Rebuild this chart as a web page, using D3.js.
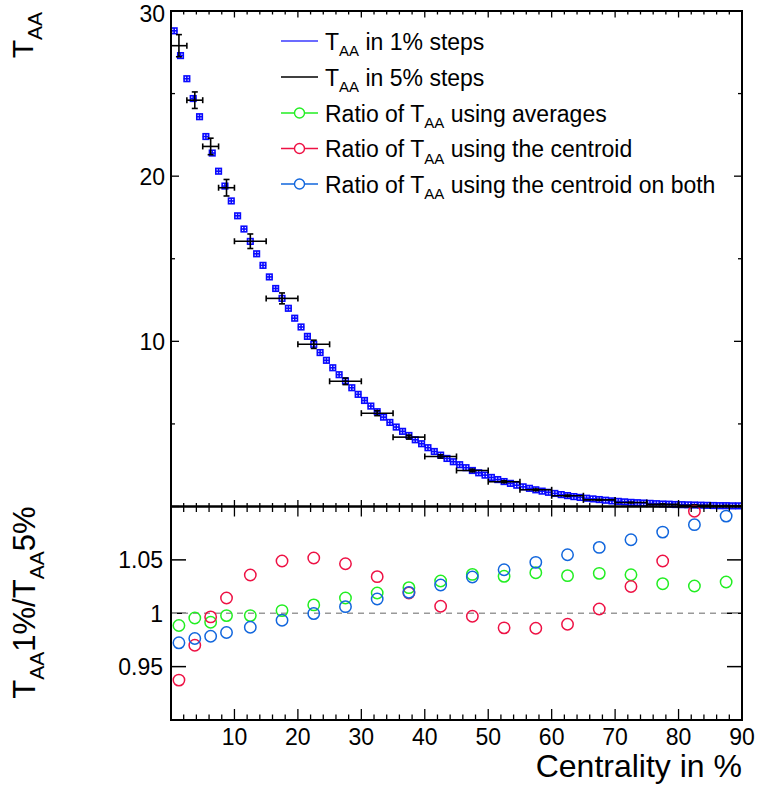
<!DOCTYPE html>
<html>
<head>
<meta charset="utf-8">
<script src="https://cdn.jsdelivr.net/npm/d3@7"></script>
<style>
  html, body { margin: 0; padding: 0; background: #fff; }
  svg { display: block; font-family: "Liberation Sans", Arial, Helvetica, sans-serif; }
</style>
</head>
<body>
<svg id="chart" width="757" height="785"></svg>
<script>
// ---------- DATA ----------
// T_AA in 1% centrality steps (bins 0-1, 1-2, ..., 89-90)
const taa1Values = [
  28.8, 27.3, 25.9, 24.7, 23.6, 22.4, 21.4, 20.3, 19.4, 18.5,
  17.6, 16.8, 16.05, 15.3, 14.6, 13.9, 13.2, 12.6, 12.0, 11.4,
  10.87, 10.3, 9.82, 9.32, 8.85, 8.4, 7.98, 7.6, 7.19, 6.79,
  6.42, 6.08, 5.74, 5.41, 5.09, 4.81, 4.55, 4.30, 4.04, 3.80,
  3.56, 3.33, 3.11, 2.91, 2.71, 2.53, 2.35, 2.18, 2.04, 1.90,
  1.76, 1.63, 1.51, 1.40, 1.29, 1.19, 1.10, 1.01, 0.93, 0.86,
  0.79, 0.72, 0.66, 0.60, 0.55, 0.50, 0.46, 0.42, 0.38, 0.34,
  0.31, 0.28, 0.25, 0.23, 0.21, 0.19, 0.17, 0.15, 0.14, 0.12,
  0.11, 0.10, 0.09, 0.08, 0.07, 0.06, 0.05, 0.05, 0.04, 0.04
];
// T_AA in 5% steps (first 10% split in 2.5% bins)
const bin5Low  = [0, 2.5, 5, 7.5, 10, 15, 20, 25, 30, 35, 40, 45, 50, 55, 60, 65, 70, 75, 80, 85];
const bin5High = [2.5, 5, 7.5, 10, 15, 20, 25, 30, 35, 40, 45, 50, 55, 60, 65, 70, 75, 80, 85, 90];
const taa5Values = [27.9, 24.6, 21.8, 19.3, 16.06, 12.6, 9.82, 7.58, 5.65, 4.2,
                    3.03, 2.18, 1.5, 1.01, 0.65, 0.40, 0.24, 0.14, 0.08, 0.05];
const taa5Errors = [0.67, 0.5, 0.5, 0.5, 0.44, 0.33, 0.25, 0.2, 0.15, 0.12,
                    0.1, 0.08, 0.06, 0.05, 0.04, 0.03, 0.02, 0.015, 0.01, 0.01];
// ratio points (centres of 5% bins)
const ratioX = [1.25, 3.75, 6.25, 8.75, 12.5, 17.5, 22.5, 27.5, 32.5, 37.5,
                42.5, 47.5, 52.5, 57.5, 62.5, 67.5, 72.5, 77.5, 82.5, 87.5];
const ratioAverages = [0.9885, 0.9956, 0.9916, 0.9978, 0.9978, 1.0025, 1.0078, 1.0143, 1.019, 1.024,
                       1.0302, 1.0364, 1.0346, 1.038, 1.0352, 1.0374, 1.0361, 1.0277, 1.0255, 1.0293];
const ratioCentroid = [0.9374, 0.970, 0.9966, 1.0143, 1.0358, 1.0489, 1.0517, 1.0464, 1.0343, 1.019,
                       1.0065, 0.9972, 0.9863, 0.986, 0.9897, 1.004, 1.025, 1.0489, 1.0956, 1.12];
const ratioCentroidBoth = [0.9723, 0.9763, 0.9785, 0.982, 0.9869, 0.9935, 0.9997, 1.0062, 1.0134, 1.0196,
                           1.0265, 1.034, 1.0408, 1.0477, 1.0548, 1.0617, 1.0688, 1.076, 1.083, 1.091];

const topYTicks = [10, 20, 30];
const bottomYTicks = [0.95, 1, 1.05];
const xTicks = [10, 20, 30, 40, 50, 60, 70, 80, 90];

const legendLabels = [
  ["T", "AA", " in 1% steps"],
  ["T", "AA", " in 5% steps"],
  ["Ratio of T", "AA", " using averages"],
  ["Ratio of T", "AA", " using the centroid"],
  ["Ratio of T", "AA", " using the centroid on both"]
];

// ---------- STYLE / LAYOUT ----------
const C_BLUE1 = "#0a0aff", C_GREEN = "#22ee22", C_RED = "#ee1144", C_AZURE = "#1166dd";
const L = 171, R = 742;
const T1 = 11, B1 = 506.5;
const T2 = 506.5, B2 = 720;

const svg = d3.select("#chart");
const x = d3.scaleLinear().domain([0, 90]).range([L, R]);
const yTop = d3.scaleLinear().domain([0, 30]).range([B1, T1]);
const yBot = d3.scaleLinear().domain([0.9, 1.1]).range([B2, T2]);

// ---------- TOP PANEL ----------
const gTop = svg.append("g");
const xMinor = d3.range(0, 91, 2);
function drawXTicks(g, yEdge, dir, major, minor) {
  g.selectAll(null).data(xMinor).enter().append("line")
    .attr("x1", d => x(d)).attr("x2", d => x(d))
    .attr("y1", yEdge).attr("y2", d => yEdge + dir * (d % 10 === 0 ? major : minor))
    .attr("stroke", "#000").attr("stroke-width", 1.3);
}
drawXTicks(gTop, B1, -1, 6.5, 3.5);
drawXTicks(gTop, T1, 1, 6.5, 3.5);
const yTopTicksAll = d3.range(0, 31, 5);
[[L, 1], [R, -1]].forEach(([xe, dir]) => {
  gTop.selectAll(null).data(yTopTicksAll).enter().append("line")
    .attr("x1", xe).attr("x2", d => xe + dir * (d % 10 === 0 ? 8 : 4))
    .attr("y1", d => yTop(d)).attr("y2", d => yTop(d))
    .attr("stroke", "#000").attr("stroke-width", 1.3);
});
gTop.selectAll(null).data(topYTicks).enter().append("text")
  .attr("x", L - 6).attr("y", d => Math.max(yTop(d) + 8.5, 22))
  .attr("text-anchor", "end").attr("font-size", 23).text(d => d);

// 1% histogram markers
const g1 = gTop.append("g").attr("stroke", C_BLUE1).attr("fill", "none").attr("stroke-width", 1.6);
taa1Values.forEach((v, i) => {
  const x0 = x(i), x1 = x(i + 1), yc = yTop(v), xc = x(i + 0.5);
  g1.append("rect").attr("x", x0 + 0.4).attr("y", yc - 2.8).attr("width", x1 - x0 - 0.8).attr("height", 5.6);
  g1.append("line").attr("x1", x0).attr("x2", x1).attr("y1", yc).attr("y2", yc);
  g1.append("line").attr("x1", xc).attr("x2", xc).attr("y1", yc - 2.8).attr("y2", yc + 2.8);
});

// 5% error crosses
const g5 = gTop.append("g").attr("stroke", "#000").attr("stroke-width", 1.6).attr("fill", "none");
taa5Values.forEach((v, i) => {
  const x0 = x(bin5Low[i]), x1 = x(bin5High[i]), xc = x((bin5Low[i] + bin5High[i]) / 2);
  const yc = yTop(v), ylo = yTop(v - taa5Errors[i]), yhi = yTop(v + taa5Errors[i]);
  g5.append("line").attr("x1", x0).attr("x2", x1).attr("y1", yc).attr("y2", yc);
  g5.append("line").attr("x1", x0).attr("x2", x0).attr("y1", yc - 3).attr("y2", yc + 3);
  g5.append("line").attr("x1", x1).attr("x2", x1).attr("y1", yc - 3).attr("y2", yc + 3);
  g5.append("line").attr("x1", xc).attr("x2", xc).attr("y1", yhi).attr("y2", ylo);
  g5.append("line").attr("x1", xc - 3).attr("x2", xc + 3).attr("y1", yhi).attr("y2", yhi);
  g5.append("line").attr("x1", xc - 3).attr("x2", xc + 3).attr("y1", ylo).attr("y2", ylo);
});

gTop.append("rect").attr("x", L).attr("y", T1).attr("width", R - L).attr("height", B1 - T1)
  .attr("fill", "none").attr("stroke", "#000").attr("stroke-width", 2);

// legend
const legRows = [41, 77, 113, 148.5, 184];
const legColors = ["#3a3aff", "#000", C_GREEN, C_RED, C_AZURE];
const gLeg = svg.append("g");
legendLabels.forEach((lab, i) => {
  const yy = legRows[i];
  gLeg.append("line").attr("x1", 281).attr("x2", 318).attr("y1", yy).attr("y2", yy)
    .attr("stroke", legColors[i]).attr("stroke-width", 1.4);
  if (i >= 2) {
    gLeg.append("circle").attr("cx", 299.5).attr("cy", yy).attr("r", 5)
      .attr("fill", "#fff").attr("stroke", legColors[i]).attr("stroke-width", 1.4);
  }
  const t = gLeg.append("text").attr("x", 325).attr("y", yy + 8.5).attr("font-size", 23);
  t.append("tspan").text(lab[0]);
  t.append("tspan").attr("font-size", 15).attr("dy", 6.5).text(lab[1]);
  t.append("tspan").attr("dy", -6.5).text(lab[2]);
});

const tTitle = svg.append("text").attr("transform", `translate(33,${T1 + 1}) rotate(-90)`)
  .attr("text-anchor", "end").attr("font-size", 30);
tTitle.append("tspan").text("T");
tTitle.append("tspan").attr("font-size", 21).attr("dy", 9).text("AA");

// ---------- BOTTOM PANEL ----------
const gBot = svg.append("g");
drawXTicks(gBot, T2, 1, 10, 5.5);
drawXTicks(gBot, B2, -1, 11, 5.5);
[[L, 1], [R, -1]].forEach(([xe, dir]) => {
  gBot.selectAll(null).data(bottomYTicks).enter().append("line")
    .attr("x1", xe).attr("x2", xe + dir * 15)
    .attr("y1", d => yBot(d)).attr("y2", d => yBot(d))
    .attr("stroke", "#000").attr("stroke-width", 1.5);
});
gBot.append("line").attr("x1", L).attr("x2", R).attr("y1", yBot(1)).attr("y2", yBot(1))
  .attr("stroke", "#999").attr("stroke-width", 1.4).attr("stroke-dasharray", "6,5");

gBot.selectAll(null).data(bottomYTicks).enter().append("text")
  .attr("x", L - 8).attr("y", d => yBot(d)).attr("dy", "0.36em")
  .attr("text-anchor", "end").attr("font-size", 23).text(d => d);
gBot.selectAll(null).data(xTicks).enter().append("text")
  .attr("x", d => x(d)).attr("y", 745)
  .attr("text-anchor", "middle").attr("font-size", 23).text(d => d);

const gPts = gBot.append("g");
const clip = svg.append("clipPath").attr("id", "botclip");
clip.append("rect").attr("x", L - 8).attr("y", T2 - 6).attr("width", R - L + 16).attr("height", B2 - T2 + 6);
gPts.attr("clip-path", "url(#botclip)");
[[ratioAverages, C_GREEN], [ratioCentroid, C_RED], [ratioCentroidBoth, C_AZURE]].forEach(([vals, col]) => {
  const pts = vals.map((v, i) => ({ cx: ratioX[i], v })).filter(p => p.v <= 1.103);
  gPts.selectAll(null).data(pts).enter().append("circle")
    .attr("cx", p => x(p.cx))
    .attr("cy", p => yBot(p.v)).attr("r", 5.7)
    .attr("fill", "none").attr("stroke", col).attr("stroke-width", 1.5);
});

gBot.append("rect").attr("x", L).attr("y", T2).attr("width", R - L).attr("height", B2 - T2)
  .attr("fill", "none").attr("stroke", "#000").attr("stroke-width", 2);

const bTitle = svg.append("text").attr("transform", `translate(35,${T2}) rotate(-90)`)
  .attr("text-anchor", "end").attr("font-size", 31);
bTitle.append("tspan").text("T");
bTitle.append("tspan").attr("font-size", 21).attr("dy", 9).text("AA");
bTitle.append("tspan").attr("dy", -9).text("1%/T");
bTitle.append("tspan").attr("font-size", 21).attr("dy", 9).text("AA");
bTitle.append("tspan").attr("dy", -9).text("5%");

svg.append("text").attr("x", R).attr("y", 777).attr("text-anchor", "end")
  .attr("font-size", 32).text("Centrality in %");
</script>
</body>
</html>
